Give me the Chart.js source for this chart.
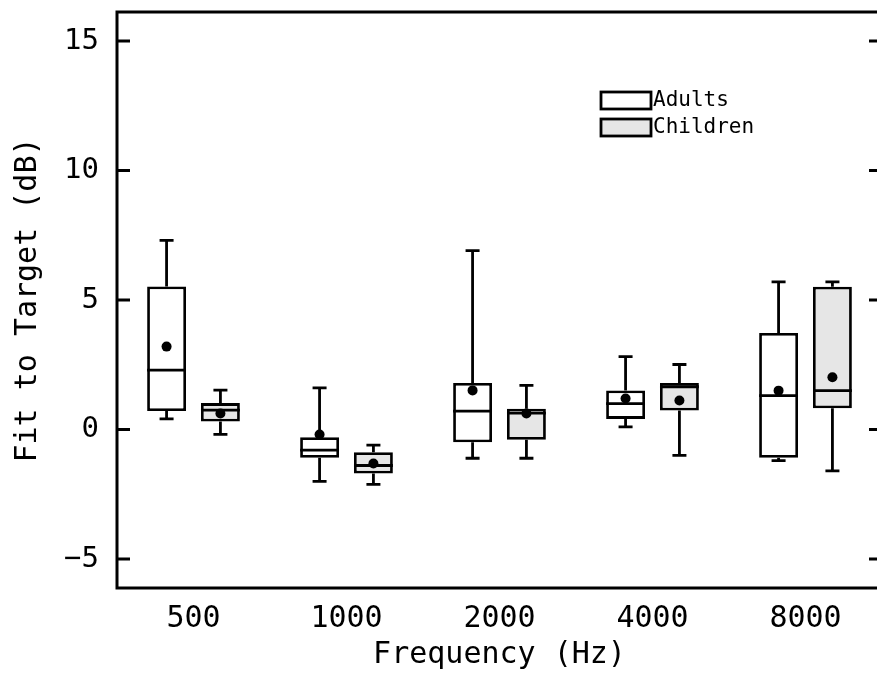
<!DOCTYPE html>
<html>
<head>
<meta charset="utf-8">
<script src="https://cdn.jsdelivr.net/npm/chart.js@4.4.0/dist/chart.umd.min.js"></script>
<style>
body { margin: 0; overflow: hidden; background: #fff; }
#wrap { width: 884px; height: 677px; }
</style>
</head>
<body>
<div id="wrap"><canvas id="fitChart" width="884" height="677"></canvas></div>
<script>
// values (dB)
const freqLabels = ['500', '1000', '2000', '4000', '8000'];
const yTicks = [-5, 0, 5, 10, 15];

const adultMin  = [0.41, -2.0, -1.11, 0.1, -1.2];
const adultQ1   = [0.71, -1.09, -0.49, 0.41, -1.09];
const adultMed  = [2.29, -0.8, 0.71, 1.0, 1.31];
const adultQ3   = [5.52, -0.3, 1.8, 1.51, 3.73];
const adultMax  = [7.3, 1.61, 6.91, 2.81, 5.7];
const adultMean = [3.2, -0.19, 1.51, 1.2, 1.5];

const childMin  = [-0.19, -2.12, -1.11, -1.0, -1.6];
const childQ1   = [0.31, -1.7, -0.4, 0.73, 0.82];
const childMed  = [0.75, -1.39, 0.63, 1.65, 1.5];
const childQ3   = [1.02, -0.88, 0.8, 1.8, 5.51];
const childMax  = [1.52, -0.6, 1.7, 2.51, 5.7];
const childMean = [0.62, -1.31, 0.62, 1.12, 2.02];

const FONT = "'DejaVu Sans Mono', monospace";

// whiskers, medians and mean dots on top of the floating bars
const boxExtras = {
  id: 'boxExtras',
  afterDatasetsDraw(chart) {
    const ctx = chart.ctx, ys = chart.scales.y;
    const sets = [
      [adultMin, adultQ1, adultMed, adultQ3, adultMax, adultMean],
      [childMin, childQ1, childMed, childQ3, childMax, childMean]
    ];
    ctx.save();
    ctx.strokeStyle = '#000';
    ctx.fillStyle = '#000';
    ctx.lineWidth = 2.8;
    sets.forEach((s, di) => {
      const meta = chart.getDatasetMeta(di);
      meta.data.forEach((bar, i) => {
        const x = bar.x, half = bar.width / 2, cap = 7;
        const yMin = ys.getPixelForValue(s[0][i]);
        const yQ1 = ys.getPixelForValue(s[1][i]);
        const yMed = ys.getPixelForValue(s[2][i]);
        const yQ3 = ys.getPixelForValue(s[3][i]);
        const yMax = ys.getPixelForValue(s[4][i]);
        const yMean = ys.getPixelForValue(s[5][i]);
        ctx.beginPath();
        ctx.moveTo(x, yQ3); ctx.lineTo(x, yMax);
        ctx.moveTo(x - cap, yMax); ctx.lineTo(x + cap, yMax);
        ctx.moveTo(x, yQ1); ctx.lineTo(x, yMin);
        ctx.moveTo(x - cap, yMin); ctx.lineTo(x + cap, yMin);
        ctx.moveTo(x - half, yMed); ctx.lineTo(x + half, yMed);
        ctx.stroke();
        ctx.beginPath();
        ctx.arc(x, yMean, 5, 0, Math.PI * 2);
        ctx.fill();
      });
    });
    ctx.restore();
  }
};

// box frame with inward ticks, plus the legend in the corner
const frameAndLegend = {
  id: 'frameAndLegend',
  afterDraw(chart) {
    const ctx = chart.ctx, a = chart.chartArea, ys = chart.scales.y;
    ctx.save();
    ctx.strokeStyle = '#000';
    ctx.lineWidth = 3;
    ctx.strokeRect(a.left, a.top, a.right - a.left, a.bottom - a.top);
    ctx.beginPath();
    yTicks.forEach(v => {
      const py = ys.getPixelForValue(v);
      ctx.moveTo(a.left, py); ctx.lineTo(a.left + 13, py);
      ctx.moveTo(a.right, py); ctx.lineTo(a.right - 13, py);
    });
    ctx.stroke();

    // legend
    const items = chart.data.datasets;
    ctx.lineWidth = 2.8;
    ctx.font = '21px ' + FONT;
    ctx.textBaseline = 'middle';
    items.forEach((ds, k) => {
      const top = 92 + k * 27;
      ctx.fillStyle = ds.backgroundColor;
      ctx.fillRect(601, top, 50, 17);
      ctx.strokeRect(601, top, 50, 17);
      ctx.fillStyle = '#000';
      ctx.fillText(ds.label, 653, top + 9);
    });
    ctx.restore();
  }
};

new Chart(document.getElementById('fitChart'), {
  type: 'bar',
  data: {
    labels: freqLabels,
    datasets: [
      {
        label: 'Adults',
        data: adultQ1.map((q, i) => [q, adultQ3[i]]),
        backgroundColor: '#ffffff',
        borderColor: '#000',
        borderWidth: 2.8,
        borderSkipped: false,
        categoryPercentage: 0.704,
        barPercentage: 0.722
      },
      {
        label: 'Children',
        data: childQ1.map((q, i) => [q, childQ3[i]]),
        backgroundColor: '#e6e6e6',
        borderColor: '#000',
        borderWidth: 2.8,
        borderSkipped: false,
        categoryPercentage: 0.704,
        barPercentage: 0.722
      }
    ]
  },
  options: {
    responsive: false,
    animation: false,
    layout: { padding: { top: 12, right: 2, left: 0, bottom: 0 } },
    plugins: {
      legend: { display: false },
      tooltip: { enabled: false }
    },
    scales: {
      x: {
        grid: { display: false },
        border: { display: false },
        ticks: { font: { family: FONT, size: 30 }, color: '#000', padding: 5, maxRotation: 0, autoSkip: false },
        title: { display: true, text: 'Frequency (Hz)', color: '#000', font: { family: FONT, size: 30 }, padding: { top: 0, bottom: 4 } },
        afterFit: s => { s.height = 89; s.paddingLeft = 0; s.paddingRight = 0; }
      },
      y: {
        min: -6.12,
        max: 16.12,
        grid: { display: false },
        border: { display: false },
        afterBuildTicks: s => { s.ticks = yTicks.map(v => ({ value: v })); },
        ticks: {
          font: { family: FONT, size: 29 }, color: '#000', padding: 10,
          callback: v => String(v).replace('-', '\u2212')
        },
        title: { display: true, text: 'Fit to Target (dB)', color: '#000', font: { family: FONT, size: 30 }, padding: { top: 10, bottom: 0 } },
        afterFit: s => { s.width = 117; s.paddingTop = 0; s.paddingBottom = 0; }
      }
    }
  },
  plugins: [boxExtras, frameAndLegend]
});
</script>
</body>
</html>
